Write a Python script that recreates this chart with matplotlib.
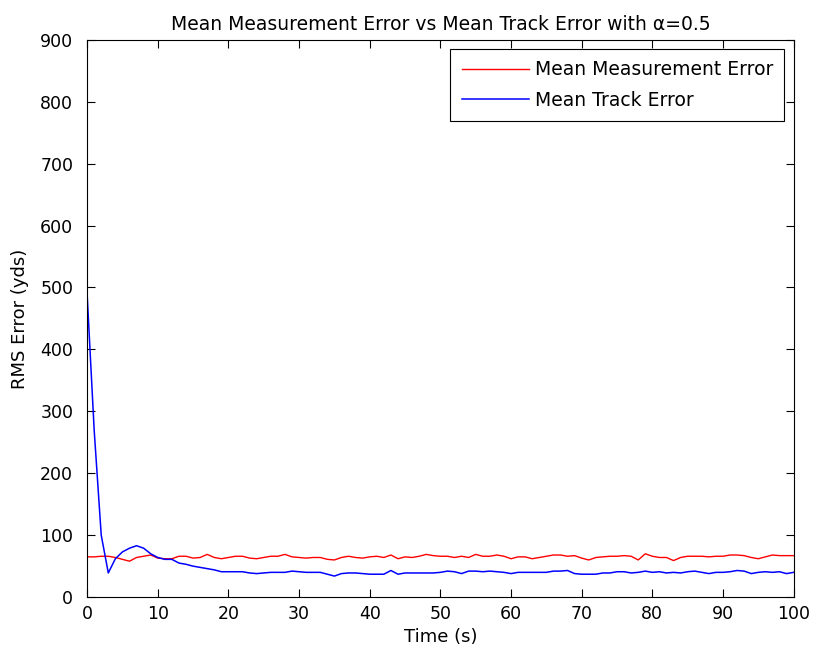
import matplotlib
matplotlib.use("Agg")
import matplotlib.pyplot as plt

plt.rcParams['font.family'] = ['DejaVu Sans']

# time in seconds
t = list(range(0, 101))

meas_err = [65, 65, 66, 66, 64, 61, 58, 64, 66, 68,
            63, 62, 62, 66, 66, 63, 64, 69, 64, 62,
            64, 66, 66, 63, 62, 64, 66, 66, 69, 65,
            64, 63, 64, 64, 61, 60, 64, 66, 64, 63,
            65, 66, 64, 68, 62, 65, 64, 66, 69, 67,
            66, 66, 64, 66, 64, 69, 66, 66, 68, 66,
            62, 65, 65, 62, 64, 66, 68, 68, 66, 67,
            63, 60, 64, 65, 66, 66, 67, 66, 60, 70,
            66, 64, 64, 59, 64, 66, 66, 66, 65, 66,
            66, 68, 68, 67, 64, 62, 65, 68, 67, 67,
            67]

track_err = [490, 270, 100, 39, 62, 73, 79, 83, 79, 70,
             64, 61, 61, 55, 53, 50, 48, 46, 44, 41,
             41, 41, 41, 39, 38, 39, 40, 40, 40, 42,
             41, 40, 40, 40, 37, 34, 38, 39, 39, 38,
             37, 37, 37, 43, 37, 39, 39, 39, 39, 39,
             40, 42, 41, 38, 42, 42, 41, 42, 41, 40,
             38, 40, 40, 40, 40, 40, 42, 42, 43, 38,
             37, 37, 37, 39, 39, 41, 41, 39, 40, 42,
             40, 41, 39, 40, 39, 41, 42, 40, 38, 40,
             40, 41, 43, 42, 38, 40, 41, 40, 41, 38,
             40]

fig = plt.figure(figsize=(8.14, 6.62), dpi=100)
ax = fig.add_axes([0.107, 0.098, 0.868, 0.842])

ax.plot(t, meas_err, color="#ff0000", lw=1.0, label="Mean Measurement Error")
ax.plot(t, track_err, color="#0000ff", lw=1.1, label="Mean Track Error")

ax.set_xlim(0, 100)
ax.set_ylim(0, 900)
ax.set_xticks(range(0, 101, 10))
ax.set_yticks(range(0, 901, 100))
ax.tick_params(direction="in", top=True, right=True, length=6, width=0.8,
               labelsize=12.5)
ax.tick_params(axis="x", pad=6)
ax.tick_params(axis="y", pad=10)
for s in ax.spines.values():
    s.set_linewidth(0.8)

ax.set_xlabel("Time (s)", fontsize=13, labelpad=3)
ax.set_ylabel("RMS Error (yds)", fontsize=13, labelpad=8)
ax.set_title("Mean Measurement Error vs Mean Track Error with α=0.5", fontsize=13.5, pad=7)

leg = ax.legend(loc="upper right", fontsize=13.5, handlelength=3.6, handletextpad=0.3,
                labelspacing=0.6, borderpad=0.6, fancybox=False, edgecolor="black",
                framealpha=1, borderaxespad=0.5)
leg.get_frame().set_linewidth(0.8)

fig.savefig("out.png", dpi=100)
